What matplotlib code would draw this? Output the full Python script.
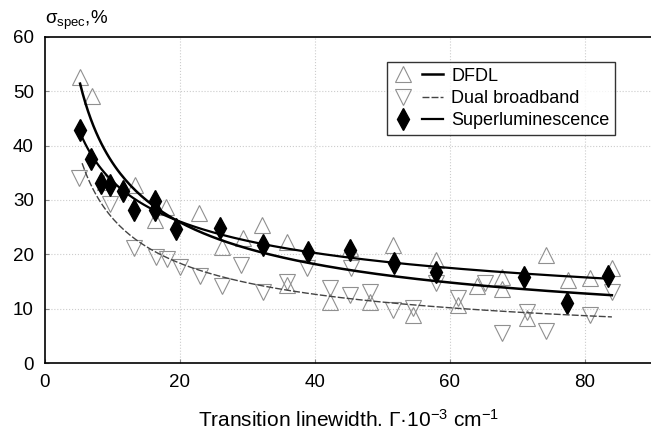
import numpy as np
import matplotlib
matplotlib.use('Agg')
import matplotlib.pyplot as plt
from matplotlib.legend_handler import HandlerTuple

plt.rcParams['font.family'] = ['Liberation Sans', 'DejaVu Sans']
plt.rcParams['mathtext.fontset'] = 'custom'
plt.rcParams['mathtext.rm'] = 'Liberation Sans'
plt.rcParams['mathtext.it'] = 'Liberation Sans:italic'

# DFDL (open up-triangles)
dfdl_x = [5.2, 6.9, 8.9, 13.4, 16.3, 18.0, 22.8, 26.2, 29.4, 32.2, 35.8, 35.8, 42.2, 45.2,
          48.1, 51.6, 54.6, 58.0, 61.2, 64.0, 67.7, 67.7, 71.4, 74.3, 77.5, 80.7, 84.0]
dfdl_y = [52.7, 49.2, 33.4, 32.8, 26.3, 28.7, 27.6, 21.4, 23.0, 25.4, 22.3, 14.4, 11.3, 21.2,
          11.3, 21.8, 8.8, 19.0, 10.7, 14.1, 15.9, 13.7, 8.3, 19.9, 15.3, 15.6, 17.4]

# Dual broadband (open down-triangles)
dual_x = [5.0, 9.6, 13.2, 16.5, 18.1, 20.0, 22.9, 26.3, 29.1, 32.3, 35.8, 38.8, 42.2, 45.3,
          45.2, 48.1, 51.6, 54.6, 58.0, 61.2, 65.2, 67.7, 71.4, 74.3, 80.7, 84.0]
dual_y = [34.0, 29.2, 21.2, 19.6, 19.2, 17.7, 16.0, 14.2, 18.0, 13.1, 15.0, 17.4, 13.8, 17.4,
          12.5, 13.1, 9.8, 10.1, 14.7, 11.9, 14.7, 5.5, 9.3, 5.8, 8.8, 13.1]

# Superluminescence (filled diamonds)
sl_x = [5.2, 6.8, 8.3, 9.7, 11.6, 13.2, 16.3, 16.3, 19.4, 25.9, 32.3, 38.9, 45.2, 51.7,
        58.0, 71.0, 77.4, 83.4]
sl_y = [42.9, 37.6, 33.2, 32.7, 31.7, 28.2, 29.9, 28.1, 24.6, 24.8, 21.7, 20.4, 20.8, 18.4,
        16.8, 15.8, 11.0, 16.1]

# power-law trend lines y = a * x^-b: (a, b, x_start, x_end)
dfdl_fit = (119.0, 0.509, 5.2, 84.0)
dual_fit = (92.0, 0.538, 5.5, 84.0)
sl_fit = (77.0, 0.362, 5.2, 83.5)


def trend(fit):
    a, b, x0, x1 = fit
    xs = np.linspace(x0, x1, 200)
    return xs, a * xs ** (-b)


fig = plt.figure(figsize=(6.51, 4.32), dpi=100)
ax = fig.add_axes([0.0691, 0.1597, 0.933, 0.7547])

for v in [20, 40, 60, 80]:
    ax.axvline(v, color='#cccccc', ls=':', lw=0.8, zorder=0)
for v in [10, 20, 30, 40, 50]:
    ax.axhline(v, color='#cccccc', ls=':', lw=0.8, zorder=0)

tri_up, = ax.plot(dfdl_x, dfdl_y, ls='none', marker='^', ms=11, mfc='none',
                  mec='#909090', mew=0.8)
tri_dn, = ax.plot(dual_x, dual_y, ls='none', marker='v', ms=11, mfc='none',
                  mec='#909090', mew=0.8)
dia, = ax.plot(sl_x, sl_y, ls='none', marker='d', ms=11, mfc='black', mec='black')

xs, ys = trend(dfdl_fit)
l1, = ax.plot(xs, ys, color='black', lw=1.8)
xs, ys = trend(dual_fit)
l2, = ax.plot(xs, ys, color='#444444', lw=1.0, ls=(0, (5, 1.5)))
xs, ys = trend(sl_fit)
l3, = ax.plot(xs, ys, color='black', lw=1.6)

ax.set_xlim(0, 90)
ax.set_ylim(0, 60)
ax.set_xticks([0, 20, 40, 60, 80])
ax.set_yticks([0, 10, 20, 30, 40, 50, 60])
ax.tick_params(direction='in', length=3, labelsize=13.5, pad=8, color='#888888')
ax.spines['right'].set_visible(False)
for s in ['left', 'bottom', 'top']:
    ax.spines[s].set_linewidth(1.2)

ax.set_xlabel('Transition linewidth. \u0393\u00b710$^{-3}$ cm$^{-1}$', fontsize=15, labelpad=13)
fig.text(0.069, 0.925, '\u03c3$_{\\rm spec}$,%', fontsize=13.5, ha='left', va='bottom')

leg = ax.legend([(tri_up, l1), (tri_dn, l2), (dia, l3)],
                ['DFDL', 'Dual broadband', 'Superluminescence'],
                handler_map={tuple: HandlerTuple(ndivide=None, pad=0.5)},
                loc='upper left', bbox_to_anchor=(0.563, 0.923), fontsize=13,
                handlelength=2.8, handletextpad=0.45, labelspacing=0.3,
                borderpad=0.3, borderaxespad=0, frameon=True, fancybox=False,
                edgecolor='black')
leg.get_frame().set_linewidth(1.0)

plt.savefig('out.png', dpi=100)
plt.close()
